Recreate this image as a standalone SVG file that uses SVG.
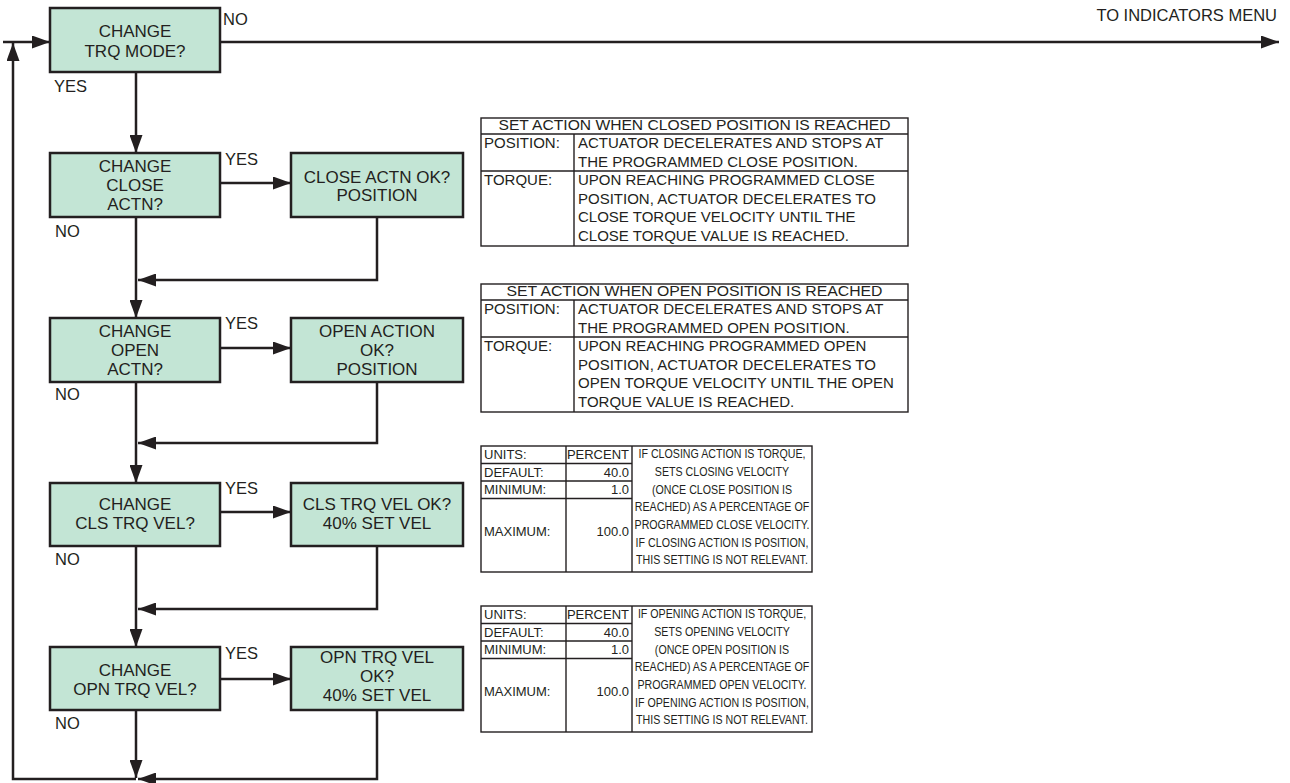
<svg xmlns="http://www.w3.org/2000/svg" width="1290" height="783" viewBox="0 0 1290 783">
<defs>
<marker id="ah" markerUnits="userSpaceOnUse" markerWidth="18" markerHeight="13" refX="18" refY="6.5" orient="auto">
<path d="M0,0 L18,6.5 L0,13 z" fill="#231f20"/>
</marker>
<style>
.box{fill:#c3e5d5;stroke:#231f20;stroke-width:2.5}
.bt{font-family:"Liberation Sans",Arial,sans-serif;font-size:17px;fill:#231f20;text-anchor:middle}
.lb{font-family:"Liberation Sans",Arial,sans-serif;font-size:16.5px;fill:#231f20}
.cn{fill:none;stroke:#231f20;stroke-width:2.5}
.tb{fill:#fff;stroke:#231f20;stroke-width:1.4}
.tl{stroke:#231f20;stroke-width:1.4}
.t15{font-family:"Liberation Sans",Arial,sans-serif;font-size:15px;fill:#231f20}
.t13{font-family:"Liberation Sans",Arial,sans-serif;font-size:13px;fill:#231f20}
.t12{font-family:"Liberation Sans",Arial,sans-serif;font-size:13px;fill:#231f20;text-anchor:middle}
.r{text-anchor:end}
.m{text-anchor:middle}
</style>
</defs>

<g id="connectors">
<path class="cn" d="M3,42 H50" marker-end="url(#ah)"/>
<path class="cn" d="M220,42 H1279" marker-end="url(#ah)"/>
<path class="cn" d="M136,72 V153" marker-end="url(#ah)"/>
<path class="cn" d="M220,183 H291" marker-end="url(#ah)"/>
<path class="cn" d="M377,217 V280 H138" marker-end="url(#ah)"/>
<path class="cn" d="M136,217 V318" marker-end="url(#ah)"/>
<path class="cn" d="M220,348 H291" marker-end="url(#ah)"/>
<path class="cn" d="M377,382 V443 H138" marker-end="url(#ah)"/>
<path class="cn" d="M136,382 V483" marker-end="url(#ah)"/>
<path class="cn" d="M220,512 H291" marker-end="url(#ah)"/>
<path class="cn" d="M377,546 V609 H138" marker-end="url(#ah)"/>
<path class="cn" d="M136,546 V647" marker-end="url(#ah)"/>
<path class="cn" d="M220,679 H291" marker-end="url(#ah)"/>
<path class="cn" d="M377,710 V779 H138" marker-end="url(#ah)"/>
<path class="cn" d="M136,710 V778" marker-end="url(#ah)"/>
<path class="cn" d="M136,779 H13 V43" marker-end="url(#ah)"/>
</g>

<g id="labels">
<text class="lb" x="223" y="25">NO</text>
<text class="lb" x="1277" y="21" text-anchor="end">TO INDICATORS MENU</text>
<text class="lb" x="54" y="92">YES</text>
<text class="lb" x="225" y="165">YES</text>
<text class="lb" x="55" y="237">NO</text>
<text class="lb" x="225" y="329">YES</text>
<text class="lb" x="55" y="400">NO</text>
<text class="lb" x="225" y="494">YES</text>
<text class="lb" x="55" y="565">NO</text>
<text class="lb" x="225" y="659">YES</text>
<text class="lb" x="55" y="729">NO</text>
</g>

<g id="n_trq_mode">
<rect class="box" x="50" y="8" width="170" height="64"/>
<text class="bt" x="135" y="37">CHANGE</text>
<text class="bt" x="135" y="56.5">TRQ MODE?</text>
</g>

<g id="n_close_actn">
<rect class="box" x="50" y="153" width="170" height="64"/>
<text class="bt" x="135" y="172">CHANGE</text>
<text class="bt" x="135" y="191">CLOSE</text>
<text class="bt" x="135" y="210">ACTN?</text>
</g>
<g id="n_close_actn_ok">
<rect class="box" x="291" y="153" width="172" height="64"/>
<text class="bt" x="377" y="183">CLOSE ACTN OK?</text>
<text class="bt" x="377" y="201">POSITION</text>
</g>

<g id="n_open_actn">
<rect class="box" x="50" y="318" width="170" height="64"/>
<text class="bt" x="135" y="337">CHANGE</text>
<text class="bt" x="135" y="356">OPEN</text>
<text class="bt" x="135" y="375">ACTN?</text>
</g>
<g id="n_open_actn_ok">
<rect class="box" x="291" y="318" width="172" height="64"/>
<text class="bt" x="377" y="337">OPEN ACTION</text>
<text class="bt" x="377" y="356">OK?</text>
<text class="bt" x="377" y="375">POSITION</text>
</g>

<g id="n_cls_trq_vel">
<rect class="box" x="50" y="483" width="170" height="63"/>
<text class="bt" x="135" y="510">CHANGE</text>
<text class="bt" x="135" y="529">CLS TRQ VEL?</text>
</g>
<g id="n_cls_trq_vel_ok">
<rect class="box" x="291" y="483" width="172" height="63"/>
<text class="bt" x="377" y="510">CLS TRQ VEL OK?</text>
<text class="bt" x="377" y="529">40% SET VEL</text>
</g>

<g id="n_opn_trq_vel">
<rect class="box" x="50" y="647" width="170" height="63"/>
<text class="bt" x="135" y="676">CHANGE</text>
<text class="bt" x="135" y="694.5">OPN TRQ VEL?</text>
</g>
<g id="n_opn_trq_vel_ok">
<rect class="box" x="291" y="647" width="172" height="63"/>
<text class="bt" x="377" y="663">OPN TRQ VEL</text>
<text class="bt" x="377" y="682">OK?</text>
<text class="bt" x="377" y="701">40% SET VEL</text>
</g>

<g id="table_close_action">
<rect class="tb" x="481" y="118" width="427" height="128"/>
<line class="tl" x1="481" y1="134" x2="908" y2="134"/>
<line class="tl" x1="481" y1="171" x2="908" y2="171"/>
<line class="tl" x1="574" y1="134" x2="574" y2="246"/>
<text class="t15 m" x="694.5" y="130" textLength="392" lengthAdjust="spacingAndGlyphs">SET ACTION WHEN CLOSED POSITION IS REACHED</text>
<text class="t15" x="484" y="148">POSITION:</text>
<text class="t15" x="578" y="148">ACTUATOR DECELERATES AND STOPS AT</text>
<text class="t15" x="578" y="166.5">THE PROGRAMMED CLOSE POSITION.</text>
<text class="t15" x="484" y="185">TORQUE:</text>
<text class="t15" x="578" y="185">UPON REACHING PROGRAMMED CLOSE</text>
<text class="t15" x="578" y="203.5">POSITION, ACTUATOR DECELERATES TO</text>
<text class="t15" x="578" y="222">CLOSE TORQUE VELOCITY UNTIL THE</text>
<text class="t15" x="578" y="240.5">CLOSE TORQUE VALUE IS REACHED.</text>
</g>

<g id="table_open_action">
<rect class="tb" x="481" y="284" width="427" height="128"/>
<line class="tl" x1="481" y1="300" x2="908" y2="300"/>
<line class="tl" x1="481" y1="337" x2="908" y2="337"/>
<line class="tl" x1="574" y1="300" x2="574" y2="412"/>
<text class="t15 m" x="694.5" y="296" textLength="376" lengthAdjust="spacingAndGlyphs">SET ACTION WHEN OPEN POSITION IS REACHED</text>
<text class="t15" x="484" y="314">POSITION:</text>
<text class="t15" x="578" y="314">ACTUATOR DECELERATES AND STOPS AT</text>
<text class="t15" x="578" y="332.5">THE PROGRAMMED OPEN POSITION.</text>
<text class="t15" x="484" y="351">TORQUE:</text>
<text class="t15" x="578" y="351">UPON REACHING PROGRAMMED OPEN</text>
<text class="t15" x="578" y="369.5">POSITION, ACTUATOR DECELERATES TO</text>
<text class="t15" x="578" y="388">OPEN TORQUE VELOCITY UNTIL THE OPEN</text>
<text class="t15" x="578" y="406.5">TORQUE VALUE IS REACHED.</text>
</g>

<g id="table_cls_trq_vel">
<rect class="tb" x="481" y="446" width="331" height="126"/>
<line class="tl" x1="481" y1="463.5" x2="632" y2="463.5"/>
<line class="tl" x1="481" y1="481" x2="632" y2="481"/>
<line class="tl" x1="481" y1="498.5" x2="632" y2="498.5"/>
<line class="tl" x1="566" y1="446" x2="566" y2="572"/>
<line class="tl" x1="632" y1="446" x2="632" y2="572"/>
<text class="t13" x="484" y="459">UNITS:</text>
<text class="t13 r" x="629" y="459">PERCENT</text>
<text class="t13" x="484" y="476.5">DEFAULT:</text>
<text class="t13 r" x="629" y="476.5">40.0</text>
<text class="t13" x="484" y="494">MINIMUM:</text>
<text class="t13 r" x="629" y="494">1.0</text>
<text class="t13" x="484" y="536">MAXIMUM:</text>
<text class="t13 r" x="629" y="536">100.0</text>
<g transform="translate(722,0) scale(0.82,1)">
<text class="t12" x="0" y="458.5">IF CLOSING ACTION IS TORQUE,</text>
<text class="t12" x="0" y="476">SETS CLOSING VELOCITY</text>
<text class="t12" x="0" y="494">(ONCE CLOSE POSITION IS</text>
<text class="t12" x="0" y="511.5">REACHED) AS A PERCENTAGE OF</text>
<text class="t12" x="0" y="529">PROGRAMMED CLOSE VELOCITY.</text>
<text class="t12" x="0" y="547">IF CLOSING ACTION IS POSITION,</text>
<text class="t12" x="0" y="564.5">THIS SETTING IS NOT RELEVANT.</text>
</g>
</g>

<g id="table_opn_trq_vel">
<rect class="tb" x="481" y="606" width="331" height="126"/>
<line class="tl" x1="481" y1="623.5" x2="632" y2="623.5"/>
<line class="tl" x1="481" y1="641" x2="632" y2="641"/>
<line class="tl" x1="481" y1="658.5" x2="632" y2="658.5"/>
<line class="tl" x1="566" y1="606" x2="566" y2="732"/>
<line class="tl" x1="632" y1="606" x2="632" y2="732"/>
<text class="t13" x="484" y="619">UNITS:</text>
<text class="t13 r" x="629" y="619">PERCENT</text>
<text class="t13" x="484" y="636.5">DEFAULT:</text>
<text class="t13 r" x="629" y="636.5">40.0</text>
<text class="t13" x="484" y="654">MINIMUM:</text>
<text class="t13 r" x="629" y="654">1.0</text>
<text class="t13" x="484" y="696">MAXIMUM:</text>
<text class="t13 r" x="629" y="696">100.0</text>
<g transform="translate(722,0) scale(0.82,1)">
<text class="t12" x="0" y="618.5">IF OPENING ACTION IS TORQUE,</text>
<text class="t12" x="0" y="636">SETS OPENING VELOCITY</text>
<text class="t12" x="0" y="654">(ONCE OPEN POSITION IS</text>
<text class="t12" x="0" y="671.5">REACHED) AS A PERCENTAGE OF</text>
<text class="t12" x="0" y="689">PROGRAMMED OPEN VELOCITY.</text>
<text class="t12" x="0" y="707">IF OPENING ACTION IS POSITION,</text>
<text class="t12" x="0" y="724.5">THIS SETTING IS NOT RELEVANT.</text>
</g>
</g>
</svg>
